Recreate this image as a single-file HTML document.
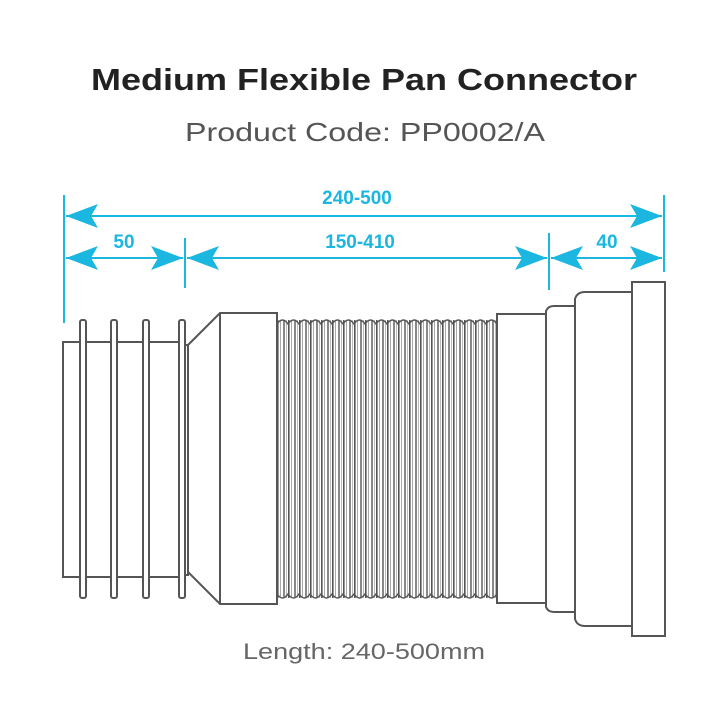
<!DOCTYPE html>
<html><head><meta charset="utf-8"><style>
html,body{margin:0;padding:0;background:#fff;}
svg{display:block;}
</style></head><body>
<svg width="724" height="724" viewBox="0 0 724 724" xmlns="http://www.w3.org/2000/svg">
<defs>
<pattern id="bel" x="277" y="0" width="11" height="10" patternUnits="userSpaceOnUse">
<rect x="0" y="0" width="11" height="10" fill="#fff"/>
<rect x="0" y="0" width="1.6" height="10" fill="#555"/>
<rect x="3" y="0" width="1" height="10" fill="#aaa"/>
<rect x="6" y="0" width="2" height="10" fill="#888"/>
<rect x="9" y="0" width="1" height="10" fill="#bbb"/>
</pattern>
</defs>
<text x="364" y="90" text-anchor="middle" font-family="Liberation Sans, sans-serif" font-size="31" font-weight="bold" fill="#222" textLength="546" lengthAdjust="spacingAndGlyphs">Medium Flexible Pan Connector</text>
<text x="365" y="141" text-anchor="middle" font-family="Liberation Sans, sans-serif" font-size="26" fill="#555" textLength="360" lengthAdjust="spacingAndGlyphs">Product Code: PP0002/A</text>
<text x="364" y="659" text-anchor="middle" font-family="Liberation Sans, sans-serif" font-size="22" fill="#666" textLength="242" lengthAdjust="spacingAndGlyphs">Length: 240-500mm</text>

<g stroke="#1bb7e0" stroke-width="2" fill="#1bb7e0">
<line x1="64" y1="195" x2="64" y2="323"/>
<line x1="185" y1="238" x2="185" y2="288"/>
<line x1="549" y1="233" x2="549" y2="290"/>
<line x1="664" y1="195" x2="664" y2="272"/>
<line x1="66" y1="216" x2="662" y2="216"/>
<line x1="66" y1="258" x2="183" y2="258"/>
<line x1="187" y1="258" x2="547" y2="258"/>
<line x1="551" y1="258" x2="662" y2="258"/>
</g>
<g fill="#1bb7e0">
<polygon points="66,216 98,204 91,216 98,228"/>
<polygon points="662,216 630,204 637,216 630,228"/>
<polygon points="66,258 98,246 91,258 98,270"/>
<polygon points="183,258 151,246 158,258 151,270"/>
<polygon points="187,258 219,246 212,258 219,270"/>
<polygon points="547,258 515,246 522,258 515,270"/>
<polygon points="551,258 583,246 576,258 583,270"/>
<polygon points="662,258 630,246 637,258 630,270"/>
</g>
<g font-family="Liberation Sans, sans-serif" font-weight="bold" font-size="19" fill="#1bb7e0" text-anchor="middle">
<text x="357" y="204">240-500</text>
<text x="124" y="248">50</text>
<text x="360" y="248">150-410</text>
<text x="607" y="248">40</text>
</g>

<g fill="#fff" stroke="#555" stroke-width="2">
<rect x="63" y="342" width="122" height="235"/>
<rect x="80" y="320" width="6" height="278" rx="2"/>
<rect x="111" y="320" width="6" height="278" rx="2"/>
<rect x="143" y="320" width="6" height="278" rx="2"/>
<rect x="179" y="320" width="6" height="278" rx="2"/>
<rect x="185" y="345" width="3" height="230"/>
<polygon points="188,345 220,313 277,313 277,604 220,604 188,572"/>
<line x1="220" y1="313" x2="220" y2="604"/>
<rect x="277" y="320" width="220" height="278" fill="url(#bel)" stroke="none"/>
<rect x="497" y="314" width="49" height="289"/>
<path d="M546,314 L546,311 Q548,306 554,306 L575,306 L575,612 L554,612 Q548,612 546,607 Z"/>
<path d="M575,306 L575,299 Q577,292 585,292 L632,292 L632,626 L585,626 Q577,626 575,619 Z"/>
<rect x="632" y="282" width="33" height="354"/>
</g>
<path d="M277,324 q5.5,-8 11,0 q5.5,-8 11,0 q5.5,-8 11,0 q5.5,-8 11,0 q5.5,-8 11,0 q5.5,-8 11,0 q5.5,-8 11,0 q5.5,-8 11,0 q5.5,-8 11,0 q5.5,-8 11,0 q5.5,-8 11,0 q5.5,-8 11,0 q5.5,-8 11,0 q5.5,-8 11,0 q5.5,-8 11,0 q5.5,-8 11,0 q5.5,-8 11,0 q5.5,-8 11,0 q5.5,-8 11,0 q5.5,-8 11,0" fill="none" stroke="#555" stroke-width="1.5"/>
<path d="M277,594 q5.5,8 11,0 q5.5,8 11,0 q5.5,8 11,0 q5.5,8 11,0 q5.5,8 11,0 q5.5,8 11,0 q5.5,8 11,0 q5.5,8 11,0 q5.5,8 11,0 q5.5,8 11,0 q5.5,8 11,0 q5.5,8 11,0 q5.5,8 11,0 q5.5,8 11,0 q5.5,8 11,0 q5.5,8 11,0 q5.5,8 11,0 q5.5,8 11,0 q5.5,8 11,0 q5.5,8 11,0" fill="none" stroke="#555" stroke-width="1.5"/>
</svg>
</body></html>
